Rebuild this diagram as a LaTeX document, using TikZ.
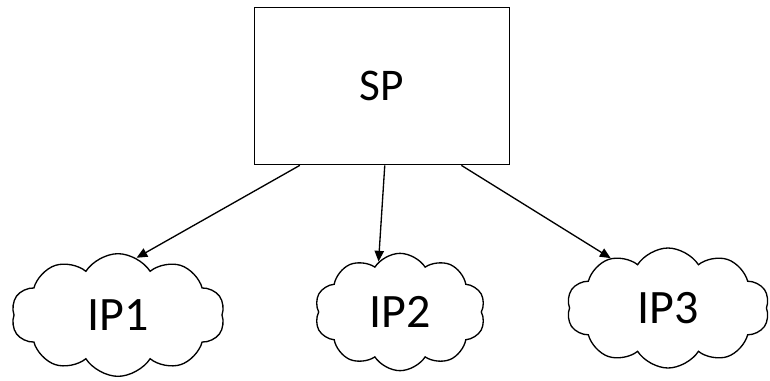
\documentclass[tikz,border=0pt]{standalone}
\usepackage{fontspec}
\setmainfont{Carlito}
\usetikzlibrary{shapes.symbols,arrows.meta}
\begin{document}
\begin{tikzpicture}[x=0.75pt, y=-0.75pt, line width=1pt,
		box/.style={draw, minimum width=191pt, minimum height=118pt, font=\fontsize{34}{36}\selectfont},
		ip/.style={cloud, draw, cloud puffs=10, cloud puff arc=115, inner sep=0pt, font=\fontsize{36}{40}\selectfont},
		arr/.style={-{Triangle[length=8pt, width=7pt]}}]
			\useasboundingbox (0, 0) rectangle (770, 380);
			\node[box] (sp) at (382, 86) {SP};
			\node[ip, minimum width=160pt, minimum height=92pt] (ip1) at (118, 315) {IP1};
			\node[ip, minimum width=128pt, minimum height=88pt] (ip2) at (400, 312) {IP2};
			\node[ip, minimum width=152pt, minimum height=90pt] (ip3) at (668, 308) {IP3};

			\draw[arr] (sp.-136) -- (ip1.72);
			\draw[arr] (sp.-88) -- (ip2.113);
			\draw[arr] (sp.-45) -- (ip3.139);
		\end{tikzpicture}
\end{document}
